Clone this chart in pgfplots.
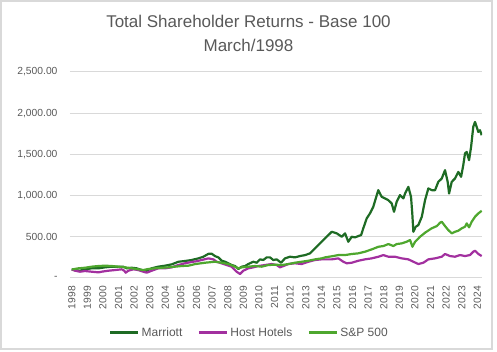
\documentclass[border=0pt]{standalone}
\usepackage{fontspec}
\setmainfont{Liberation Sans}
\usepackage{pgfplots}
\pgfplotsset{compat=1.18}
\definecolor{mar}{HTML}{1E6B24}
\definecolor{hst}{HTML}{A2309F}
\definecolor{snp}{HTML}{4EA72E}
\definecolor{txt}{HTML}{595959}
\definecolor{grd}{HTML}{D9D9D9}
\begin{document}
\begin{tikzpicture}
\path[use as bounding box] (0pt,0pt) rectangle (497pt,351pt);
\draw[grd, line width=1.2pt] (1pt,2pt) rectangle (492pt,350pt);
\node[txt, align=center, font=\fontsize{17}{23.5}\selectfont] at (248.5pt,317.5pt) {Total Shareholder Returns - Base 100\\March/1998};
\begin{axis}[at={(70pt,73.3pt)}, anchor=south west, scale only axis,
  width=412pt, height=205.7pt,
  xmin=1997.89, xmax=2024.30, ymin=0, ymax=2500,
  axis line style={draw=none}, tick style={draw=none},
  ymajorgrids, grid style={grd, line width=1pt},
  ytick={0,500,1000,1500,2000,2500},
  yticklabels={{-\hspace{6pt}},500.00,{1,000.00},{1,500.00},{2,000.00},{2,500.00}},
  yticklabel style={font=\fontsize{10.3}{12}\selectfont, text=txt, xshift=-9pt},
  xtick={1998,1999,2000,2001,2002,2003,2004,2005,2006,2007,2008,2009,2010,2011,2012,2013,2014,2015,2016,2017,2018,2019,2020,2021,2022,2023,2024},
  xticklabels={1998,1999,2000,2001,2002,2003,2004,2005,2006,2007,2008,2009,2010,2011,2012,2013,2014,2015,2016,2017,2018,2019,2020,2021,2022,2023,2024},
  xticklabel style={rotate=90, anchor=east, font=\fontsize{10.3}{12}\selectfont, text=txt, xshift=-5pt},
  legend style={at={(0.435,-0.268)}, anchor=center, draw=none, fill=none, legend columns=3,
    font=\fontsize{12}{14}\selectfont, text=txt,
    /tikz/every even column/.append style={column sep=13pt}},
  legend image code/.code={\draw[#1, line width=3pt] (0pt,0pt) -- (28pt,0pt);},
  every axis plot/.append style={line width=2.2pt, line join=round, mark=none},
]
\addplot[mar] coordinates {
(1998.00,100) (1998.21,93) (1998.53,85) (1998.85,102) (1999.28,114) (1999.71,114)
(2000.14,126) (2000.56,134) (2000.99,134) (2001.31,134) (2001.52,114) (2001.84,121)
(2002.16,114) (2002.49,93) (2002.81,85) (2003.13,114) (2003.55,134) (2003.98,146)
(2004.41,162) (2004.84,194) (2005.26,203) (2005.69,215) (2006.12,235) (2006.44,255)
(2006.76,290) (2006.97,292) (2007.19,262) (2007.40,247) (2007.62,206) (2007.83,194)
(2008.04,175) (2008.26,154) (2008.47,142) (2008.68,106) (2008.90,134) (2009.11,142)
(2009.32,166) (2009.64,194) (2009.86,182) (2010.07,223) (2010.28,215) (2010.50,247)
(2010.71,247) (2010.92,215) (2011.14,223) (2011.42,182) (2011.67,235) (2011.99,255)
(2012.31,247) (2012.63,263) (2012.96,275) (2013.28,296) (2013.49,336) (2013.81,397)
(2014.13,458) (2014.45,518) (2014.67,558) (2014.99,539) (2015.31,498) (2015.52,539)
(2015.73,437) (2015.95,498) (2016.16,490) (2016.37,506) (2016.55,518) (2016.69,600)
(2016.91,721) (2017.12,782) (2017.33,862) (2017.65,1064) (2017.87,983) (2018.08,964)
(2018.29,943) (2018.51,903) (2018.66,801) (2018.83,922) (2019.04,1004) (2019.26,964)
(2019.37,1024) (2019.58,1104) (2019.75,983) (2019.83,782) (2019.90,558) (2020.05,619)
(2020.22,640) (2020.44,740) (2020.65,943) (2020.86,1085) (2021.08,1064) (2021.29,1064)
(2021.50,1165) (2021.72,1206) (2021.93,1307) (2022.10,1165) (2022.19,1024) (2022.36,1165)
(2022.57,1206) (2022.78,1286) (2022.96,1226) (2023.10,1368) (2023.21,1510) (2023.32,1529)
(2023.47,1428) (2023.60,1590) (2023.74,1833) (2023.85,1893) (2023.96,1833) (2024.06,1772)
(2024.17,1792) (2024.28,1732)
};
\addlegendentry{Marriott}
\addplot[hst] coordinates {
(1998.00,100) (1998.21,85) (1998.53,73) (1998.85,81) (1999.28,73) (1999.71,65)
(1999.92,73) (2000.35,85) (2000.78,93) (2001.20,102) (2001.37,85) (2001.46,61)
(2001.63,85) (2001.95,102) (2002.27,93) (2002.59,73) (2002.81,61) (2003.13,85)
(2003.55,114) (2003.98,114) (2004.41,126) (2004.83,154) (2005.26,175) (2005.69,191)
(2006.00,200) (2006.33,215) (2006.76,235) (2007.08,223) (2007.29,194) (2007.61,175)
(2007.93,154) (2008.25,134) (2008.57,73) (2008.79,45) (2009.00,85) (2009.32,114)
(2009.64,126) (2009.96,142) (2010.39,154) (2010.82,166) (2011.14,154) (2011.35,126)
(2011.57,142) (2011.89,166) (2012.31,175) (2012.74,166) (2013.17,194) (2013.60,215)
(2014.02,223) (2014.24,223) (2014.66,223) (2015.09,235) (2015.41,194) (2015.63,175)
(2015.95,182) (2016.37,206) (2016.80,223) (2017.23,235) (2017.66,255) (2017.98,275)
(2018.30,255) (2018.72,255) (2019.15,235) (2019.58,223) (2019.90,194) (2020.22,166)
(2020.54,182) (2020.86,223) (2021.29,235) (2021.72,255) (2021.93,288) (2022.25,263)
(2022.57,255) (2022.89,275) (2023.21,263) (2023.53,275) (2023.74,316) (2023.85,328)
(2024.07,288) (2024.28,263)
};
\addlegendentry{Host Hotels}
\addplot[snp] coordinates {
(1998.00,100) (1998.43,114) (1998.85,121) (1999.28,134) (1999.71,142) (2000.14,146)
(2000.56,142) (2000.99,134) (2001.42,126) (2001.85,114) (2002.27,102) (2002.59,93)
(2002.91,106) (2003.34,114) (2003.77,121) (2004.20,126) (2004.62,134) (2005.05,142)
(2005.48,146) (2005.90,165) (2006.54,182) (2007.19,194) (2007.61,182) (2008.04,166)
(2008.47,134) (2008.68,114) (2008.90,126) (2009.32,134) (2009.75,142) (2010.18,134)
(2010.60,154) (2011.03,158) (2011.46,154) (2011.89,166) (2012.31,182) (2012.74,194)
(2013.17,206) (2013.60,223) (2014.02,235) (2014.24,247) (2014.66,260) (2015.09,275)
(2015.52,275) (2015.95,288) (2016.37,296) (2016.80,316) (2017.23,344) (2017.66,376)
(2017.98,385) (2018.30,409) (2018.62,385) (2018.83,409) (2019.15,417) (2019.47,437)
(2019.69,458) (2019.84,376) (2020.01,437) (2020.33,498) (2020.65,547) (2021.07,600)
(2021.40,627) (2021.61,668) (2021.72,680) (2021.93,627) (2022.14,579) (2022.36,539)
(2022.57,558) (2022.78,571) (2023.00,600) (2023.21,619) (2023.32,660) (2023.47,612)
(2023.64,680) (2023.85,740) (2024.07,782) (2024.28,813)
};
\addlegendentry{S\&P 500}
\end{axis}
\end{tikzpicture}
\end{document}
